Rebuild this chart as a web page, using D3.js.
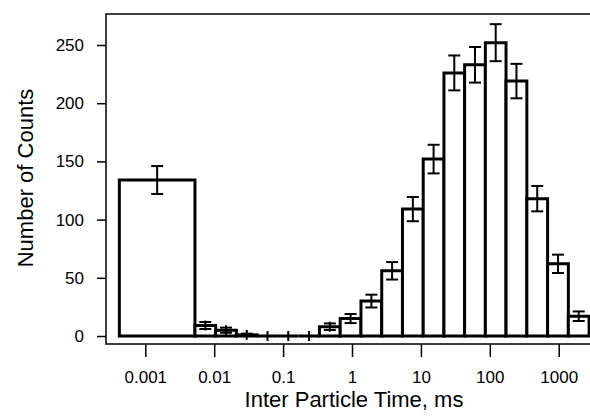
<!DOCTYPE html>
<html>
<head>
<meta charset="utf-8">
<script src="https://cdn.jsdelivr.net/npm/d3@7"></script>
<style>
  body { margin: 0; background: #fff; }
  svg { display: block; font-family: "Liberation Sans", Arial, sans-serif; }
</style>
</head>
<body>
<svg id="chart" width="590" height="416"></svg>
<script>
// Histogram bin edges (ms), first bin is the wide underflow bin.
const binEdges = [0.00042, 0.00526, 0.0105, 0.021, 0.042, 0.084, 0.168, 0.337, 0.674,
  1.35, 2.7, 5.4, 10.8, 21.6, 43.1, 86.2, 172, 345, 690, 1380, 2760];
const counts = [134, 9, 5, 1, 0, 0, 0, 8, 15, 30, 56, 109, 152, 226, 233, 252, 219, 118, 62, 17];
const errors = [12, 3, 2.2, 1, 0, 0, 0, 2.8, 3.9, 5.5, 7.5, 10.4, 12.3, 15, 15.3, 15.9, 14.8, 10.9, 7.9, 4.1];

const xTickValues = [0.001, 0.01, 0.1, 1, 10, 100, 1000];
const xTickLabels = ['0.001', '0.01', '0.1', '1', '10', '100', '1000'];
const yTickValues = [0, 50, 100, 150, 200, 250];

const plot = { left: 106, right: 590, top: 14, bottom: 344 };

const svg = d3.select('#chart');

const x = d3.scaleLog().domain([0.000269, 2845]).range([plot.left, plot.right]);
const y = d3.scaleLinear().domain([0, 250]).range([336, 45]);

// Bars
const bars = counts.map((c, i) => ({ lo: binEdges[i], hi: binEdges[i + 1], c: c, e: errors[i] }));

svg.append('g')
  .selectAll('path')
  .data(bars)
  .join('path')
  .attr('d', (d) => {
    const x0 = x(d.lo), x1 = x(d.hi), y0 = y(0), y1 = y(d.c);
    return `M${x0},${y0}V${y1}H${x1}V${y0}Z`;
  })
  .attr('fill', '#fff')
  .attr('stroke', '#000')
  .attr('stroke-width', 3)
  .attr('stroke-linejoin', 'miter');

// Error bars (empty bins still get a small cross, as in the original)
const gErr = svg.append('g').attr('stroke', '#000').attr('stroke-width', 2);
bars.forEach((d) => {
  const px = x(Math.sqrt(d.lo * d.hi));
  const yc = y(d.c);
  const half = Math.max(y(0) - y(d.e), 5);
  gErr.append('line')
    .attr('x1', px).attr('x2', px)
    .attr('y1', yc - half).attr('y2', yc + half);
  [y(d.c + d.e), y(d.c - d.e)].forEach((yy) => {
    gErr.append('line')
      .attr('x1', px - 6).attr('x2', px + 6)
      .attr('y1', yy).attr('y2', yy);
  });
});

// Frame lines
svg.append('path')
  .attr('d', `M${plot.right},${plot.top}H${plot.left}V${plot.bottom}H${plot.right}`)
  .attr('stroke', '#000')
  .attr('stroke-width', 1.5)
  .attr('fill', 'none');

// Axes
const xAxis = d3.axisBottom(x)
  .tickValues(xTickValues)
  .tickFormat((d, i) => xTickLabels[i])
  .tickSize(13)
  .tickPadding(14);
const gx = svg.append('g').attr('transform', `translate(0,${plot.bottom})`).call(xAxis);

const yAxis = d3.axisLeft(y)
  .tickValues(yTickValues)
  .tickSize(9)
  .tickPadding(13);
const gy = svg.append('g').attr('transform', `translate(${plot.left},0)`).call(yAxis);

[gx, gy].forEach((g) => {
  g.select('.domain').remove();
  g.selectAll('.tick line').attr('stroke', '#000').attr('stroke-width', 1.5);
  g.selectAll('.tick text')
    .attr('fill', '#000')
    .style('font-family', '"Liberation Sans", Arial, sans-serif')
    .style('font-size', '17px');
});

// Axis titles
svg.append('text')
  .attr('x', 354)
  .attr('y', 407)
  .attr('text-anchor', 'middle')
  .style('font-size', '22px')
  .text('Inter Particle Time, ms');

svg.append('text')
  .attr('transform', 'translate(33,178) rotate(-90)')
  .attr('text-anchor', 'middle')
  .style('font-size', '22px')
  .text('Number of Counts');
</script>
</body>
</html>
